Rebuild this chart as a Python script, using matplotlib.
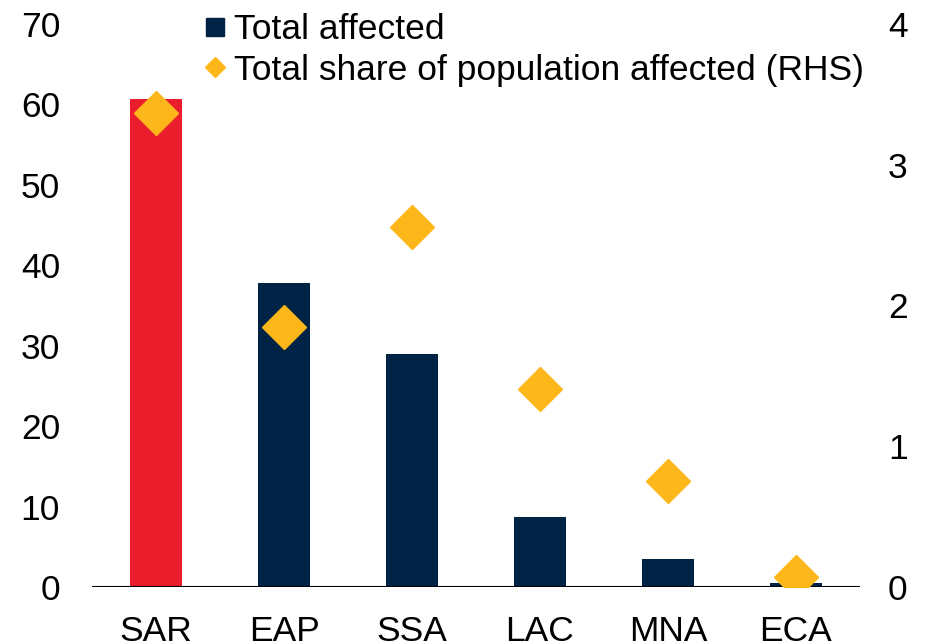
import matplotlib.pyplot as plt
import numpy as np

plt.rcParams['font.family'] = ['Liberation Sans', 'DejaVu Sans']

# data
regions = ['SAR', 'EAP', 'SSA', 'LAC', 'MNA', 'ECA']
total_affected = [60.7, 37.8, 29.0, 8.7, 3.5, 0.5]
share_affected = [3.37, 1.85, 2.56, 1.41, 0.75, 0.07]

navy = '#002244'
red = '#EB1E2E'
gold = '#FDB71A'

fig = plt.figure(figsize=(9.26, 6.44), dpi=100)
ax = fig.add_axes([92 / 926, 1 - 587 / 644, 768 / 926, 563 / 644])
ax2 = ax.twinx()

x = np.arange(len(regions))
colors = [red] + [navy] * (len(regions) - 1)
ax.bar(x, total_affected, width=0.41, color=colors, zorder=2)
ax2.plot(x, share_affected, linestyle='none', marker='D', markersize=22,
         color=gold, zorder=3)

ax.set_xlim(-0.5, len(regions) - 0.5)
ax.set_ylim(0, 70)
ax2.set_ylim(0, 4)
ax.set_yticks(range(0, 71, 10))
ax2.set_yticks(range(0, 5))
ax.set_xticks(x)
ax.set_xticklabels(regions)

for a in (ax, ax2):
    for s in ['top', 'left', 'right', 'bottom']:
        a.spines[s].set_visible(False)
    a.tick_params(length=0, labelsize=25.5)
ax.tick_params(axis='y', pad=23)
ax2.tick_params(axis='y', pad=20)
ax.tick_params(axis='x', pad=20)
ax.axhline(0, color='black', linewidth=1.5, zorder=4)

# legend
h1 = plt.Line2D([], [], linestyle='none', marker='s', markersize=12.7, color=navy)
h2 = plt.Line2D([], [], linestyle='none', marker='D', markersize=10.5, color=gold)
fig.legend([h1, h2], ['Total affected', 'Total share of population affected (RHS)'],
           loc='upper left', bbox_to_anchor=(206 / 926, 1 - 13 / 644),
           frameon=False, fontsize=25.5, handlelength=0.5, handletextpad=0.28,
           labelspacing=0.22, borderpad=0, borderaxespad=0)

fig.savefig('out.png', dpi=100)
